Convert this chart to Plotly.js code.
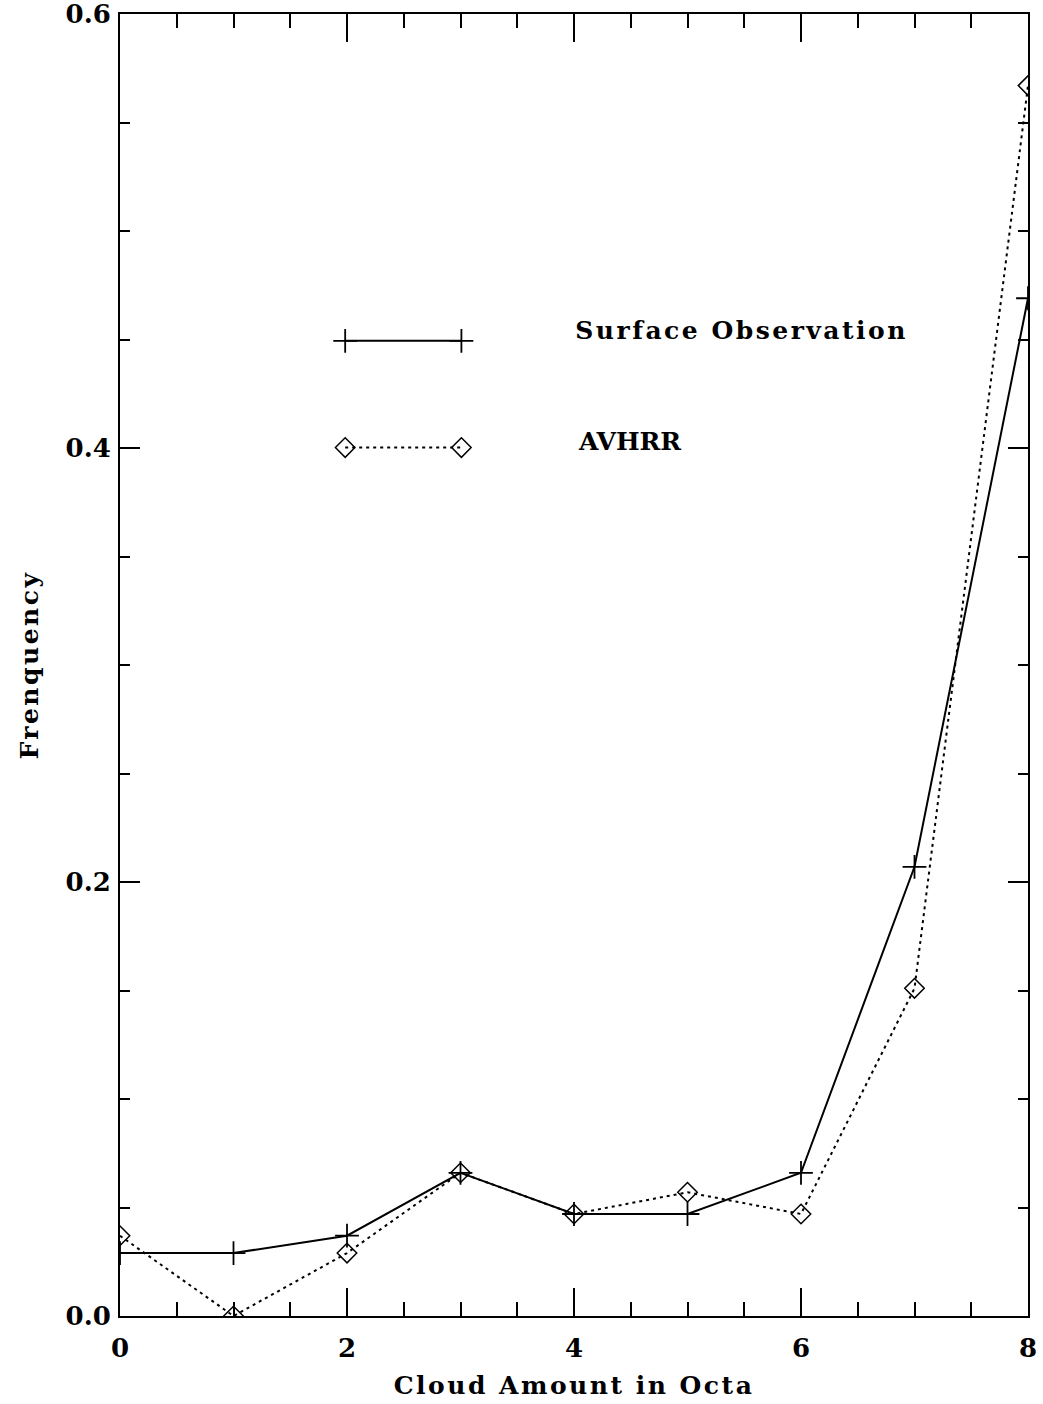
<!DOCTYPE html>
<html>
<head>
<meta charset="utf-8">
<script src="https://cdn.plot.ly/plotly-3.0.1.min.js"></script>
<style>
  html, body { margin: 0; padding: 0; background: #fff; }
  #chart { width: 1043px; height: 1404px; }
</style>
</head>
<body>
<div id="chart"></div>
<script>
// Cloud amount classes (octa)
const octa = [0, 1, 2, 3, 4, 5, 6, 7, 8];

// Relative frequency of each cloud amount
const surfaceObs = [0.029, 0.029, 0.037, 0.066, 0.047, 0.047, 0.066, 0.207, 0.469];
const avhrr      = [0.037, 0.000, 0.029, 0.066, 0.047, 0.057, 0.047, 0.151, 0.567];

// Axis tick labels
const xTicks = [0, 2, 4, 6, 8];
const yTicks = [0.0, 0.2, 0.4, 0.6];
const yTickText = ['0.0', '0.2', '0.4', '0.6'];

// Series names shown in the key
const seriesNames = ['Surface Observation', 'AVHRR'];

const FONT = '"DejaVu Serif", "Liberation Serif", serif';
const DOTTED = '3px,4px';

const plusMarker = { symbol: 'cross-thin-open', size: 17, color: '#000', line: { color: '#000', width: 1.8 } };
const diamondMarker = { symbol: 'diamond-open', size: 15, color: '#000', line: { color: '#000', width: 1.5 } };

const traces = [
  {
    x: octa, y: surfaceObs, name: seriesNames[0],
    mode: 'lines+markers', cliponaxis: true,
    line: { color: '#000', width: 2 },
    marker: plusMarker
  },
  {
    x: octa, y: avhrr, name: seriesNames[1],
    mode: 'lines+markers', cliponaxis: true,
    line: { color: '#000', width: 2, dash: DOTTED },
    marker: diamondMarker
  },
  // Key samples, drawn on a hidden unit axis pair
  {
    x: [0.248, 0.376], y: [0.749, 0.749], xaxis: 'x2', yaxis: 'y2',
    mode: 'lines+markers', hoverinfo: 'skip', showlegend: false,
    line: { color: '#000', width: 2 },
    marker: plusMarker
  },
  {
    x: [0.248, 0.376], y: [0.667, 0.667], xaxis: 'x2', yaxis: 'y2',
    mode: 'lines+markers', hoverinfo: 'skip', showlegend: false,
    line: { color: '#000', width: 2, dash: DOTTED },
    marker: diamondMarker
  }
];

const tickFont = { family: FONT, size: 26, color: '#000', weight: 'bold' };
const titleFont = { family: FONT, size: 25, color: '#000', weight: 'bold' };

const layout = {
  width: 1043, height: 1404,
  margin: { l: 120, r: 15, t: 14, b: 88 },
  paper_bgcolor: '#fff', plot_bgcolor: '#fff',
  showlegend: false,
  font: { family: FONT, color: '#000', size: 22 },
  xaxis: {
    range: [0, 8], tickmode: 'array', tickvals: xTicks,
    ticks: 'inside', ticklen: 28, tickwidth: 2, tickcolor: '#000',
    minor: { dtick: 0.5, tick0: 0, ticks: 'inside', ticklen: 14, tickwidth: 2, tickcolor: '#000' },
    showline: true, linecolor: '#000', linewidth: 2, mirror: 'allticks',
    showgrid: false, zeroline: false,
    ticklabelstandoff: 8, ticklabeloverflow: 'allow',
    tickfont: tickFont,
    title: { text: 'Cloud Amount in Octa', standoff: 14, font: titleFont }
  },
  yaxis: {
    range: [0, 0.6], tickmode: 'array', tickvals: yTicks, ticktext: yTickText,
    ticks: 'inside', ticklen: 20, tickwidth: 2, tickcolor: '#000',
    minor: { dtick: 0.05, tick0: 0, ticks: 'inside', ticklen: 10, tickwidth: 2, tickcolor: '#000' },
    showline: true, linecolor: '#000', linewidth: 2, mirror: 'allticks',
    showgrid: false, zeroline: false,
    ticklabelstandoff: 2, ticklabeloverflow: 'allow',
    tickfont: tickFont,
    title: { text: 'Frenquency', standoff: 20, font: titleFont }
  },
  xaxis2: { overlaying: 'x', range: [0, 1], visible: false, fixedrange: true },
  yaxis2: { overlaying: 'y', range: [0, 1], visible: false, fixedrange: true },
  annotations: [
    { xref: 'paper', yref: 'paper', x: 0.525, y: 0.757, xanchor: 'left', yanchor: 'middle',
      text: seriesNames[0], showarrow: false, font: titleFont },
    { xref: 'paper', yref: 'paper', x: 0.502, y: 0.672, xanchor: 'left', yanchor: 'middle',
      text: seriesNames[1], showarrow: false, font: titleFont }
  ]
};

Plotly.newPlot('chart', traces, layout, { staticPlot: true, displayModeBar: false }).then(function (gd) {
  // Wide letter spacing for the labels
  gd.querySelectorAll('.xtitle, .ytitle').forEach(function (t) { t.style.letterSpacing = '2.5px'; });
  const notes = gd.querySelectorAll('.annotation-text');
  if (notes[0]) notes[0].style.letterSpacing = '2.5px';
});
</script>
</body>
</html>
